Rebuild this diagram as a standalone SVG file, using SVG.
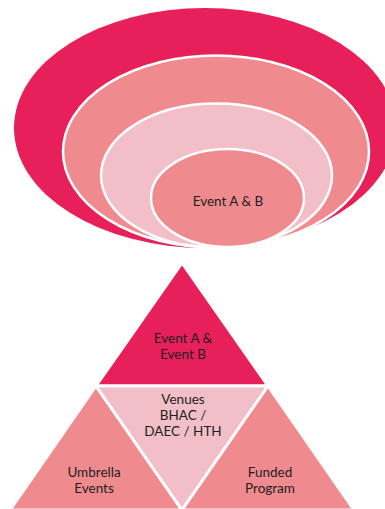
<svg xmlns="http://www.w3.org/2000/svg" width="385" height="509" viewBox="0 0 385 509">
<style>
.crimson{fill:#E8205A}
.salmon{fill:#EF8B8F}
.pink{fill:#F2BEC8}
.ring{stroke:#FFFFFF;stroke-width:2.5}
.tri{stroke:#FFFFFF;stroke-width:3;stroke-linejoin:miter}
.lbl{font-family:Lato,"Open Sans",sans-serif;font-size:13.5px;fill:#231F20;text-anchor:middle}
</style>
<rect width="385" height="509" fill="#FFFFFF"/>
<g id="ellipse-outer"><ellipse class="crimson" cx="205" cy="128" rx="191" ry="120"/></g>
<g id="ellipse-2"><ellipse class="salmon ring" cx="216" cy="151.5" rx="153" ry="96"/></g>
<g id="ellipse-3"><ellipse class="pink ring" cx="216.5" cy="175.5" rx="115.5" ry="72"/></g>
<g id="ellipse-inner"><ellipse class="salmon ring" cx="227.5" cy="198" rx="76.5" ry="49"/>
<text class="lbl" x="228" y="206">Event A &amp; B</text></g>
<g id="tri-top"><polygon class="crimson tri" points="182,263 96,386 268,386"/>
<text class="lbl" x="183" y="343">Event A &amp;</text><text class="lbl" x="183" y="359">Event B</text></g>
<g id="tri-left"><polygon class="salmon tri" points="96,386 10,510 182,510"/>
<text class="lbl" x="94" y="477">Umbrella</text><text class="lbl" x="94" y="493">Events</text></g>
<g id="tri-mid"><polygon class="pink tri" points="96,386 268,386 182,510"/>
<text class="lbl" x="183" y="404">Venues</text><text class="lbl" x="183" y="420">BHAC /</text><text class="lbl" x="183" y="436">DAEC / HTH</text></g>
<g id="tri-right"><polygon class="salmon tri" points="268,386 182,510 354,510"/>
<text class="lbl" x="270" y="477">Funded</text><text class="lbl" x="270" y="493">Program</text></g>
<g id="connectors"></g>
</svg>
